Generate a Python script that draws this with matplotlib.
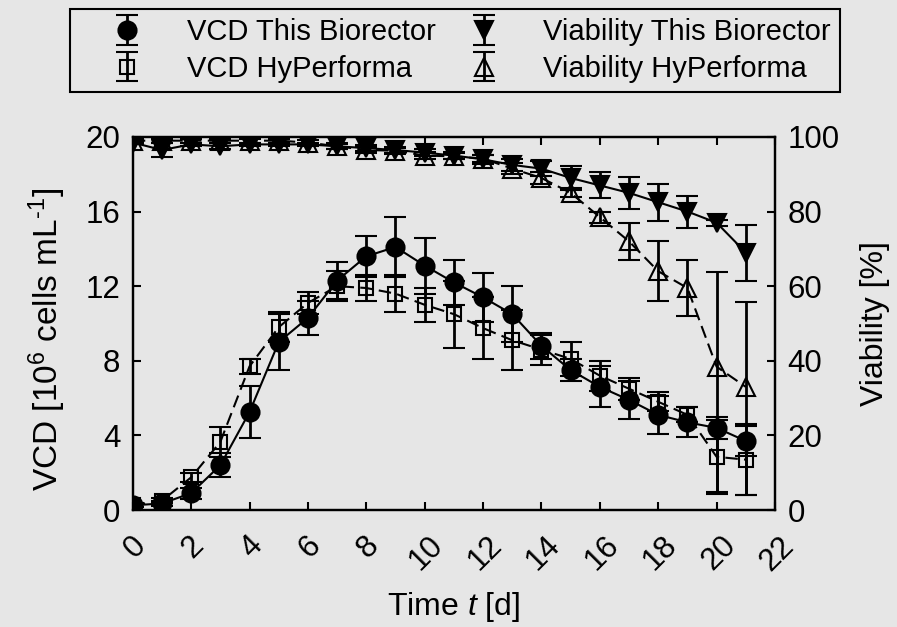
import matplotlib

matplotlib.use("Agg")

import matplotlib.pyplot as plt
import matplotlib.transforms as mtransforms

days = list(range(22))

# VCD [1e6 cells/mL]
vcd_this = [0.25, 0.35, 0.9, 2.4, 5.25, 9.0, 10.3, 12.3, 13.6, 14.1, 13.1, 12.2,
            11.4, 10.5, 8.8, 7.5, 6.6, 5.9, 5.1, 4.7, 4.4, 3.7]
vcd_this_err = [0.1, 0.15, 0.3, 0.65, 1.4, 1.5, 0.9, 1.0, 1.1, 1.6, 1.5, 1.2,
                1.3, 1.5, 0.7, 0.6, 1.1, 1.0, 1.0, 0.8, 0.6, 0.8]
vcd_hyp = [0.25, 0.5, 1.75, 3.65, 7.7, 9.8, 11.1, 12.0, 11.9, 11.6, 11.0, 10.5,
           9.75, 9.1, 8.6, 8.1, 7.2, 6.5, 5.8, 5.1, 2.85, 2.7]
vcd_hyp_err = [0.1, 0.15, 0.25, 0.8, 0.4, 0.8, 0.6, 0.8, 0.7, 1.0, 0.9, 1.8,
               1.65, 1.6, 0.8, 0.9, 0.8, 0.6, 0.5, 0.4, 2.0, 1.9]

# Viability [%]
via_this = [98.5, 96.5, 98.0, 97.5, 98.0, 98.0, 98.0, 97.5, 97.0, 96.5, 95.8, 95.0,
            94.0, 92.5, 91.5, 89.0, 87.0, 85.0, 82.5, 80.0, 77.0, 69.0]
via_this_err = [0.5, 2.0, 0.5, 0.8, 0.5, 0.5, 0.5, 0.6, 0.8, 0.8, 1.0, 1.0,
                1.2, 1.5, 2.0, 3.2, 3.5, 4.2, 4.9, 4.3, 0.8, 7.5]
via_hyp = [99.0, 99.0, 99.0, 99.0, 99.0, 99.0, 98.5, 97.5, 96.5, 96.3, 95.0, 94.8,
           94.2, 91.5, 89.0, 85.0, 78.5, 72.0, 64.0, 59.5, 38.4, 33.0]
via_hyp_err_lo = [0.5, 0.5, 0.5, 0.5, 0.5, 0.5, 0.6, 0.8, 0.8, 0.8, 1.0, 0.8,
                  1.0, 1.5, 1.5, 1.2, 1.5, 5.0, 8.0, 7.5, 33.5, 29.0]
via_hyp_err_hi = [0.5, 0.5, 0.5, 0.5, 0.5, 0.5, 0.6, 0.8, 0.8, 0.8, 1.0, 0.8,
                  1.0, 1.5, 1.5, 1.2, 1.5, 5.0, 8.0, 7.5, 25.5, 22.8]

bg = "#e6e6e6"
fs_tick = 22.5
fs_label = 23
fs_leg = 21

plt.rcParams["font.family"] = ["Liberation Sans", "DejaVu Sans"]
plt.rcParams["mathtext.fontset"] = "custom"
plt.rcParams["mathtext.rm"] = "Liberation Sans"
plt.rcParams["mathtext.it"] = "Liberation Sans:italic"

fig = plt.figure(figsize=(8.97, 6.27), dpi=100, facecolor=bg)
ax = fig.add_axes([0.148, 0.1866, 0.716, 0.595], facecolor=bg)
ax2 = ax.twinx()

dash = (0, (6, 3))
err_kw = dict(ecolor="black", elinewidth=2.0, capsize=8, capthick=2.3,
              linestyle="none", markeredgewidth=1.5, markeredgecolor="black")

# lines first, then points with error bars
ax.plot(days, vcd_this, color="black", lw=1.5)
ax.plot(days, vcd_hyp, color="black", lw=1.5, linestyle=dash)
ax2.plot(days, via_this, color="black", lw=1.5)
ax2.plot(days, via_hyp, color="black", lw=1.5, linestyle=dash)

h1 = ax.errorbar(days, vcd_this, yerr=vcd_this_err, marker="o", markersize=13,
                 markerfacecolor="black", **err_kw)
h2 = ax.errorbar(days, vcd_hyp, yerr=vcd_hyp_err, marker="s", markersize=10,
                 markerfacecolor="none", **err_kw)
h3 = ax2.errorbar(days, via_this, yerr=via_this_err, marker="v", markersize=13,
                  markerfacecolor="black", **err_kw)
h4 = ax2.errorbar(days, via_hyp, yerr=[via_hyp_err_lo, via_hyp_err_hi], marker="^",
                  markersize=13, markerfacecolor="none", **err_kw)

ax.set_xlim(0, 22)
ax.set_ylim(0, 20)
ax2.set_ylim(0, 100)
ax.set_xticks(range(0, 23, 2))
ax.set_yticks(range(0, 21, 4))
ax2.set_yticks(range(0, 101, 20))
ax.set_xticklabels([str(v) for v in range(0, 23, 2)], rotation=45, ha="center")

ax.tick_params(direction="in", top=True, length=6, width=1.5, labelsize=fs_tick, pad=9)
ax.tick_params(axis="y", right=False)
ax2.tick_params(direction="in", length=6, width=1.5, labelsize=fs_tick, pad=9)
for a in (ax, ax2):
    for sp in a.spines.values():
        sp.set_linewidth(1.6)

# push rotated day labels a little lower
shift = mtransforms.ScaledTranslation(0.02, -0.08, fig.dpi_scale_trans)
for lab in ax.get_xticklabels():
    lab.set_transform(lab.get_transform() + shift)

ax.set_xlabel("Time $t$ [d]", fontsize=fs_label, labelpad=10)
ax.set_ylabel("VCD [10$^{6}$ cells mL$^{\\text{-1}}$]", fontsize=24)
ax.yaxis.set_label_coords(-0.101, 0.456)
ax2.set_ylabel("Viability [%]", fontsize=fs_label, labelpad=15)

leg = fig.legend(handles=[h1, h2, h3, h4],
                 labels=["VCD This Biorector", "VCD HyPerforma",
                         "Viability This Biorector", "Viability HyPerforma"],
                 loc="upper center", bbox_to_anchor=(0.507, 0.985), ncol=2,
                 fontsize=fs_leg, frameon=True, fancybox=False, facecolor=bg,
                 edgecolor="black", framealpha=1, handlelength=3.3,
                 handletextpad=0.4, columnspacing=0.0, labelspacing=0.3,
                 borderpad=0.3, borderaxespad=0)
leg.get_frame().set_linewidth(1.5)

fig.savefig("out.png", dpi=100, facecolor=bg)
